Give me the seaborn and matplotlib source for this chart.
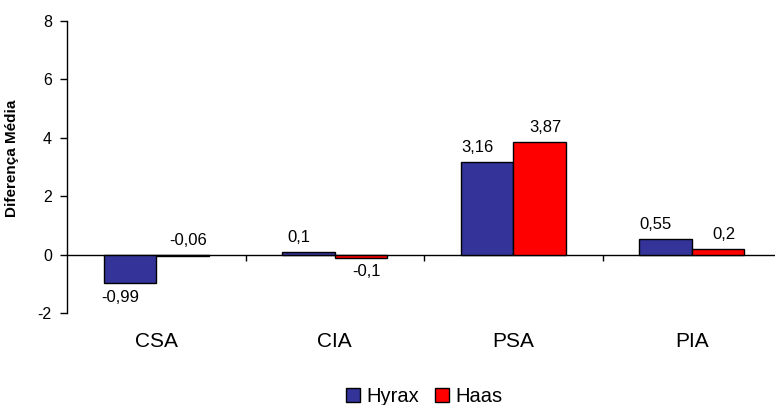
import matplotlib
matplotlib.use("Agg")
import matplotlib.pyplot as plt
from matplotlib.patches import Patch
import seaborn as sns
import pandas as pd

# Mean differences per measurement, for each expander type
categorias = ["CSA", "CIA", "PSA", "PIA"]
grupos = ["Hyrax", "Haas"]
hyrax = [-0.99, 0.1, 3.16, 0.55]
haas = [-0.06, -0.1, 3.87, 0.2]
yticks = [-2, 0, 2, 4, 6, 8]
cores = ["#333399", "#FF0000"]

df = pd.DataFrame({
    "categoria": categorias * 2,
    "grupo": [grupos[0]] * len(categorias) + [grupos[1]] * len(categorias),
    "valor": hyrax + haas,
})

sns.set_theme(style="white")
plt.rcParams["font.family"] = ["Liberation Sans", "DejaVu Sans"]
for key in ("text.color", "axes.labelcolor", "xtick.color", "ytick.color"):
    plt.rcParams[key] = "black"

fig = plt.figure(figsize=(7.75, 4.05), dpi=100)
ax = fig.add_axes([0.0865, 0.2272, 0.9213, 0.7209])

sns.barplot(data=df, x="categoria", y="valor", hue="grupo", order=categorias,
            hue_order=grupos, palette=cores, saturation=1, width=0.59, gap=0,
            edgecolor="black", linewidth=1, errorbar=None, legend=False, ax=ax)

ax.set_xlim(-0.5, len(categorias) - 0.5)
ax.set_ylim(yticks[0], yticks[-1])
ax.set_yticks(yticks)
ax.set_yticklabels([str(t) for t in yticks], fontsize=11.5)

# Category axis drawn along the zero line, labels pushed below the plot
for s in ("top", "right"):
    ax.spines[s].set_visible(False)
ax.spines["bottom"].set_position(("data", 0))
ax.spines["bottom"].set_zorder(0.5)
for s in ("left", "bottom"):
    ax.spines[s].set_color("black")
    ax.spines[s].set_linewidth(1)

ax.set_xticks(range(len(categorias)))
ax.set_xticklabels(categorias, fontsize=15)
ax.set_xticks([i + 0.5 for i in range(len(categorias) - 1)], minor=True)
ax.tick_params(axis="x", which="major", length=0, pad=56)
ax.tick_params(axis="x", which="minor", length=4, width=1, direction="out",
               color="black", bottom=True)
ax.tick_params(axis="y", length=5, width=1, direction="out", color="black",
               left=True, pad=6)

ax.set_xlabel("")
ax.set_ylabel("Diferença Média", fontsize=11, fontweight="bold")
ax.yaxis.set_label_coords(-0.067, 0.53)

# Value labels with decimal comma
dx = [-7, 4]
for k, cont in enumerate(ax.containers):
    vals = hyrax if k == 0 else haas
    for bar, v in zip(cont, vals):
        xc = bar.get_x() + bar.get_width() / 2
        txt = f"{v:g}".replace(".", ",")
        if v <= -0.1:
            ax.annotate(txt, (xc, v), xytext=(dx[k], -5), textcoords="offset points",
                        ha="center", va="top", fontsize=12)
        else:
            ax.annotate(txt, (xc, max(v, 0)), xytext=(dx[k], 5),
                        textcoords="offset points", ha="center", va="bottom",
                        fontsize=12)

handles = [Patch(facecolor=c, edgecolor="black", linewidth=1) for c in cores]
fig.legend(handles, grupos, loc="center", bbox_to_anchor=(0.547, 0.021),
           ncol=2, frameon=False, fontsize=14.5, handlelength=0.7,
           handleheight=0.7, handletextpad=0.3, columnspacing=0.8)

fig.savefig("out.png", dpi=100)
